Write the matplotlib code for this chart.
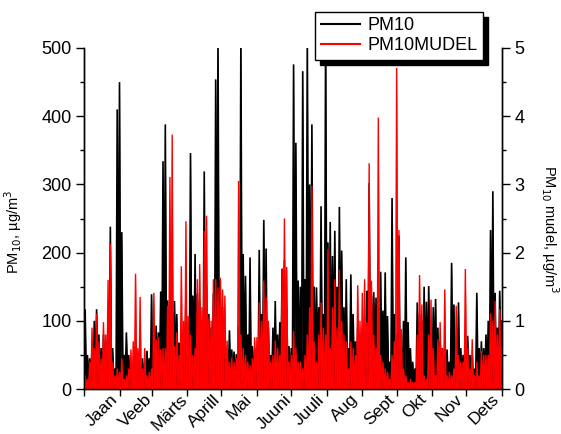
import numpy as np
import matplotlib
matplotlib.use("Agg")
import matplotlib.pyplot as plt
from matplotlib.patches import Rectangle
from matplotlib.lines import Line2D

plt.rcParams['font.family'] = ['Liberation Sans', 'DejaVu Sans']

# ---- data: 2-day periods (high / low of hourly values) ----
months = ["Jaan", "Veeb", "Märts", "Aprill", "Mai", "Juuni", "Juuli",
          "Aug", "Sept", "Okt", "Nov", "Dets"]
month_starts = [0, 31, 59, 90, 120, 151, 181, 212, 243, 273, 304, 334, 365]

pm10_high = [
    117, 50, 45, 60, 100, 117, 80, 60, 80, 70, 90, 238, 60, 30, 410, 450, 230, 50, 83, 50, 40, 35, 60, 50, 40, 45, 40, 56, 45, 139,
    56, 93, 83, 143, 334, 388, 130, 122, 127, 129, 110, 68, 60, 70, 137, 60, 346, 137, 198, 140, 130, 100, 319, 150, 110, 90, 140, 454, 520, 160, 120,
    78, 60, 86, 58, 55, 51, 93, 520, 198, 166, 80, 193, 63, 60, 40, 204, 110, 248, 206, 90, 50, 90, 129, 80, 98, 176, 189, 120, 63, 60, 476,
    361, 159, 150, 466, 161, 520, 300, 388, 150, 149, 120, 268, 110, 520, 215, 245, 195, 232, 150, 267, 203, 120, 161, 60, 168, 110, 70, 90, 80, 90,
    80, 144, 302, 137, 142, 134, 100, 172, 115, 171, 107, 40, 280, 110, 80, 225, 60, 100, 193, 98, 60, 40, 30, 127, 110, 100, 150, 128, 151, 90, 120,
    132, 90, 70, 60, 50, 58, 40, 185, 124, 60, 127, 60, 50, 60, 78, 50, 50, 30, 141, 60, 70, 60, 80, 100, 233, 290, 141, 90, 144, 100,
]
pm10_low = [
    15, 10, 8, 12, 20, 15, 18, 10, 15, 20, 18, 25, 10, 8, 12, 20, 15, 10, 15, 20, 10, 8, 5, 10, 15, 12, 10, 5, 15, 20,
    10, 15, 20, 25, 30, 25, 30, 35, 40, 30, 25, 20, 15, 30, 35, 20, 25, 30, 35, 30, 25, 20, 30, 40, 35, 20, 15, 25, 30, 35, 25,
    20, 15, 10, 12, 8, 10, 15, 25, 30, 20, 15, 25, 10, 8, 6, 15, 20, 30, 25, 20, 10, 15, 20, 15, 20, 30, 35, 25, 15, 10, 20,
    25, 30, 20, 15, 25, 35, 40, 45, 30, 25, 35, 40, 30, 35, 40, 35, 30, 35, 25, 30, 40, 30, 25, 15, 20, 25, 15, 10, 15, 20,
    15, 20, 25, 20, 30, 25, 20, 15, 20, 25, 15, 10, 20, 15, 10, 15, 10, 15, 20, 15, 10, 8, 5, 10, 15, 20, 10, 8, 10, 15, 12,
    20, 10, 8, 10, 6, 5, 10, 15, 10, 5, 10, 8, 5, 10, 15, 8, 5, 4, 10, 15, 10, 8, 12, 15, 20, 25, 15, 10, 20, 15,
]
model_high = [
    0.20, 0.15, 0.40, 0.90, 0.60, 1.10, 0.70, 0.45, 0.98, 0.80, 1.60, 2.13, 0.40, 0.20, 0.30, 0.25, 0.45, 0.15, 0.20, 0.30, 0.58, 0.70, 1.69, 0.60, 1.35, 0.30, 0.60, 0.20, 0.25, 0.30,
    1.41, 0.73, 0.76, 0.58, 0.60, 0.60, 1.22, 3.11, 3.73, 0.63, 0.83, 0.50, 1.80, 1.00, 2.46, 1.07, 0.80, 0.50, 0.60, 1.61, 1.83, 1.20, 2.32, 2.54, 1.05, 1.00, 1.61, 1.61, 1.49, 1.63, 1.46,
    1.37, 0.71, 0.40, 0.46, 0.40, 0.45, 3.05, 0.80, 0.60, 0.50, 0.40, 0.35, 0.45, 0.76, 0.76, 1.27, 1.00, 1.59, 1.34, 1.00, 0.40, 0.50, 0.71, 0.60, 0.50, 1.77, 2.50, 1.79, 0.40, 0.50, 0.85,
    0.60, 0.40, 0.40, 0.30, 0.50, 0.80, 1.20, 2.98, 0.70, 0.40, 0.80, 1.27, 0.90, 0.80, 2.05, 0.60, 1.20, 1.61, 0.90, 1.75, 1.00, 0.80, 0.70, 0.30, 0.70, 0.60, 0.50, 1.52, 1.00, 1.41,
    1.61, 0.98, 3.31, 1.59, 0.80, 0.60, 3.98, 0.50, 0.40, 0.30, 0.25, 0.15, 0.50, 0.70, 4.71, 2.33, 0.88, 0.30, 0.20, 0.10, 0.15, 0.10, 0.10, 0.80, 1.67, 1.24, 0.20, 0.15, 0.80, 1.31, 0.60,
    0.20, 0.73, 0.98, 0.60, 1.46, 0.20, 0.25, 0.20, 0.30, 1.22, 0.50, 0.40, 0.40, 1.76, 0.60, 0.30, 0.73, 0.20, 0.40, 0.20, 0.56, 0.50, 0.50, 0.50, 1.11, 1.00, 1.29, 0.80, 1.17, 0.60,
]
model_low = [
    0.01, 0.00, 0.02, 0.03, 0.02, 0.03, 0.01, 0.01, 0.03, 0.02, 0.03, 0.04, 0.01, 0.00, 0.01, 0.00, 0.02, 0.00, 0.01, 0.01, 0.02, 0.02, 0.03, 0.01, 0.02, 0.01, 0.02, 0.00, 0.01, 0.01,
    0.02, 0.03, 0.02, 0.01, 0.03, 0.03, 0.04, 0.05, 0.06, 0.03, 0.03, 0.02, 0.04, 0.03, 0.05, 0.02, 0.02, 0.01, 0.03, 0.03, 0.04, 0.03, 0.05, 0.06, 0.03, 0.02, 0.03, 0.04, 0.03, 0.05, 0.04,
    0.03, 0.02, 0.01, 0.02, 0.01, 0.02, 0.03, 0.03, 0.02, 0.02, 0.01, 0.01, 0.02, 0.02, 0.01, 0.03, 0.03, 0.04, 0.03, 0.03, 0.01, 0.02, 0.02, 0.01, 0.02, 0.03, 0.05, 0.04, 0.01, 0.02, 0.02,
    0.02, 0.01, 0.01, 0.01, 0.02, 0.02, 0.03, 0.04, 0.02, 0.01, 0.02, 0.03, 0.02, 0.02, 0.03, 0.02, 0.03, 0.03, 0.02, 0.02, 0.03, 0.02, 0.02, 0.01, 0.02, 0.02, 0.01, 0.03, 0.02, 0.03,
    0.03, 0.03, 0.04, 0.03, 0.02, 0.02, 0.05, 0.01, 0.01, 0.01, 0.00, 0.00, 0.01, 0.02, 0.05, 0.04, 0.02, 0.01, 0.00, 0.00, 0.00, 0.00, 0.00, 0.02, 0.03, 0.02, 0.00, 0.00, 0.02, 0.02, 0.02,
    0.00, 0.02, 0.02, 0.01, 0.03, 0.00, 0.00, 0.00, 0.01, 0.02, 0.01, 0.01, 0.01, 0.03, 0.01, 0.00, 0.02, 0.00, 0.01, 0.00, 0.01, 0.01, 0.01, 0.01, 0.02, 0.02, 0.03, 0.02, 0.02, 0.01,
]

# ---- figure ----
W, H = 561, 434
fig = plt.figure(figsize=(W / 100, H / 100), dpi=100)
ax = fig.add_axes([84 / W, 1 - 389 / H, (502 - 84) / W, (389 - 48) / H])
ax2 = ax.twinx()

def zigzag(low, high):
    n = len(high)
    start = np.arange(n) * 2.0
    xs = np.column_stack([start, start + 1.0]).ravel()
    ys = np.column_stack([low, high]).ravel()
    return xs, ys

xb, yb = zigzag(pm10_low, pm10_high)
xr, yr = zigzag(model_low, model_high)
ax.fill_between(xb, 0, yb, color='black', lw=0)
ax.plot(xb, yb, color='black', lw=1.2, solid_joinstyle='miter')
ax2.fill_between(xr, 0, yr, color='red', lw=0)
ax2.plot(xr, yr, color='red', lw=1.0, solid_joinstyle='miter')

ax.set_xlim(0, 365)
ax.set_ylim(0, 500)
ax2.set_ylim(0, 5)

for a in (ax, ax2):
    a.spines['top'].set_visible(False)
    for s in ('left', 'right', 'bottom'):
        a.spines[s].set_linewidth(1.0)

ax.set_yticks([0, 100, 200, 300, 400, 500])
ax.set_yticks([50, 150, 250, 350, 450], minor=True)
ax2.set_yticks([0, 1, 2, 3, 4, 5])
ax2.set_yticks([0.5, 1.5, 2.5, 3.5, 4.5], minor=True)
ax.tick_params(axis='y', which='major', direction='out', length=6, width=1, labelsize=13, pad=3)
ax.tick_params(axis='y', which='minor', direction='out', length=3, width=1)
ax2.tick_params(axis='y', which='major', direction='out', length=6, width=1, labelsize=13, pad=3)
ax2.tick_params(axis='y', which='minor', direction='out', length=3, width=1)

ax.set_xticks(month_starts)
ax.set_xticklabels([])
mids = [(month_starts[i] + month_starts[i + 1]) / 2 for i in range(12)]
ax.set_xticks(mids, minor=True)
ax.set_xticklabels(months, minor=True, rotation=45, ha='center', fontsize=12.5)
ax.tick_params(axis='x', which='major', direction='out', length=5, width=1)
ax.tick_params(axis='x', which='minor', length=0, pad=2)

ax.set_ylabel('PM$_{10}$, µg/m$^3$', fontsize=10.5)
ax2.set_ylabel('PM$_{10}$ mudel, µg/m$^3$', fontsize=10.5, rotation=270)
ax.yaxis.set_label_coords(-0.1435, 0.46)
ax2.yaxis.set_label_coords(1.14, 0.47)

handles = [Line2D([], [], color='black', lw=1.5), Line2D([], [], color='red', lw=1.5)]
leg = ax2.legend(handles, ['PM10', 'PM10MUDEL'], loc='upper right',
                 bbox_to_anchor=(483 / W, 1 - 12 / H), bbox_transform=fig.transFigure,
                 fontsize=13, frameon=True, fancybox=False, framealpha=1,
                 edgecolor='black', borderpad=0.3, labelspacing=0.15,
                 handlelength=2.2, handletextpad=0.4, borderaxespad=0)
leg.get_frame().set_linewidth(1.0)
leg.set_zorder(10)

fig.canvas.draw()
bb = leg.get_frame().get_window_extent()
sh = Rectangle((bb.x0 + 5, bb.y0 - 5), bb.width, bb.height, transform=None,
               facecolor='black', edgecolor='black', zorder=9, clip_on=False)
ax2.add_artist(sh)

fig.savefig('out.png', dpi=100)
